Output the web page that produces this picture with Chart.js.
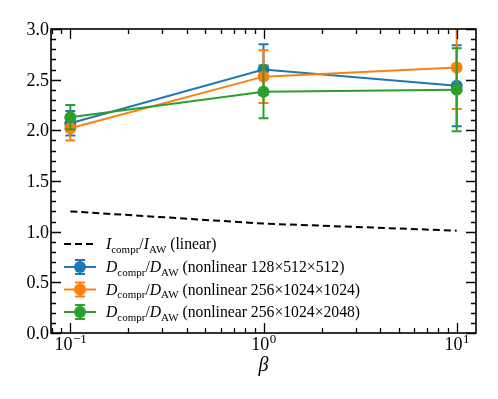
<!DOCTYPE html>
<html><head><meta charset="utf-8">
<script src="https://cdn.jsdelivr.net/npm/chart.js@4/dist/chart.umd.min.js"></script>
<style>html,body{margin:0;padding:0;background:#fff}</style>
</head><body>
<canvas id="c" width="498" height="399" style="display:block;width:498px;height:399px"></canvas>
<script>
// ---- data ----
const betaValues = [0.1, 1, 10];
const linearRatio = [1.20, 1.08, 1.01];
const nl128 = [2.07, 2.60, 2.44];
const nl128Err = [0.12, 0.25, 0.40];
const nl1024 = [2.02, 2.53, 2.62];
const nl1024Err = [0.12, 0.26, 0.41];
const nl2048 = [2.13, 2.38, 2.40];
const nl2048Err = [0.12, 0.26, 0.41];
const yTickValues = [0.0, 0.5, 1.0, 1.5, 2.0, 2.5, 3.0];
const xTickExponents = [-1, 0, 1];
const legendSymbols = ['I', 'D', 'D', 'D'];
const legendDescriptions = ['(linear)', '(nonlinear 128\u00d7512\u00d7512)', '(nonlinear 256\u00d71024\u00d71024)', '(nonlinear 256\u00d71024\u00d72048)'];
const xAxisTitle = '\u03b2';

const COLORS = ['#000000', '#1f77b4', '#ff7f0e', '#2ca02c'];
const SERIF = '"Liberation Serif", "Times New Roman", serif';

function pts(ys) { return betaValues.map((x, i) => ({x: x, y: ys[i]})); }

const datasets = [
  {data: pts(linearRatio), borderColor: COLORS[0], borderDash: [7, 4], borderWidth: 2, pointRadius: 0, order: 3},
  {data: pts(nl128), errors: nl128Err, borderColor: COLORS[1], backgroundColor: COLORS[1], borderWidth: 2, pointRadius: 6, pointBorderWidth: 0, order: 2},
  {data: pts(nl1024), errors: nl1024Err, borderColor: COLORS[2], backgroundColor: COLORS[2], borderWidth: 2, pointRadius: 6, pointBorderWidth: 0, order: 1},
  {data: pts(nl2048), errors: nl2048Err, borderColor: COLORS[3], backgroundColor: COLORS[3], borderWidth: 2, pointRadius: 6, pointBorderWidth: 0, order: 0}
];

function drawErrorBar(ctx, x, yTop, yBot, color) {
  ctx.save();
  ctx.strokeStyle = color;
  ctx.lineWidth = 2;
  ctx.beginPath();
  ctx.moveTo(x, yTop); ctx.lineTo(x, yBot);
  ctx.moveTo(x - 5, yTop); ctx.lineTo(x + 5, yTop);
  ctx.moveTo(x - 5, yBot); ctx.lineTo(x + 5, yBot);
  ctx.stroke();
  ctx.restore();
}

function drawRuns(ctx, x, y, runs) {
  runs.forEach(r => {
    ctx.font = r.f;
    ctx.fillText(r.t, x, y + (r.dy || 0));
    x += ctx.measureText(r.t).width;
  });
  return x;
}

const customPlugin = {
  id: 'custom',
  beforeDatasetDraw(chart, args) {
    const ds = chart.data.datasets[args.index];
    if (!ds.errors) return;
    const ctx = chart.ctx, a = chart.chartArea;
    const xs = chart.scales.x, ys = chart.scales.y;
    ctx.save();
    ctx.beginPath(); ctx.rect(a.left, a.top, a.right - a.left, a.bottom - a.top); ctx.clip();
    ds.data.forEach((p, i) => {
      const px = xs.getPixelForValue(p.x);
      drawErrorBar(ctx, px, ys.getPixelForValue(p.y + ds.errors[i]), ys.getPixelForValue(p.y - ds.errors[i]), ds.borderColor);
    });
    ctx.restore();
  },
  afterDraw(chart) {
    const ctx = chart.ctx, a = chart.chartArea;
    const xs = chart.scales.x, ys = chart.scales.y;
    ctx.save();
    ctx.strokeStyle = '#000';
    ctx.fillStyle = '#000';
    // frame
    ctx.lineWidth = 1.6;
    ctx.strokeRect(a.left, a.top, a.right - a.left, a.bottom - a.top);
    // y ticks (inside, both sides)
    ctx.lineWidth = 1.3;
    ctx.beginPath();
    for (let k = 0; k <= 30; k++) {
      const v = k / 10;
      const py = Math.round(ys.getPixelForValue(v)) + 0.5;
      const len = (k % 5 === 0) ? 10 : 5;
      ctx.moveTo(a.left, py); ctx.lineTo(a.left + len, py);
      ctx.moveTo(a.right, py); ctx.lineTo(a.right - len, py);
    }
    // x ticks (log, inside, both sides)
    for (let d = -2; d <= 1; d++) {
      for (let m = 1; m <= 9; m++) {
        const v = m * Math.pow(10, d);
        if (v < xs.min || v > xs.max) continue;
        const px = Math.round(xs.getPixelForValue(v)) + 0.5;
        const len = (m === 1) ? 10 : 5;
        ctx.moveTo(px, a.bottom); ctx.lineTo(px, a.bottom - len);
        ctx.moveTo(px, a.top); ctx.lineTo(px, a.top + len);
      }
    }
    ctx.stroke();
    // y tick labels
    ctx.font = '18px ' + SERIF;
    ctx.textAlign = 'right';
    ctx.textBaseline = 'alphabetic';
    yTickValues.forEach(v => {
      const py = ys.getPixelForValue(v);
      ctx.fillText(v.toFixed(1), a.left - 2, py + 6);
    });
    // x tick labels 10^n
    ctx.textAlign = 'left';
    xTickExponents.forEach(e => {
      const px = xs.getPixelForValue(Math.pow(10, e));
      const base = '10';
      const sup = (e < 0 ? '\u2212' : '') + Math.abs(e);
      ctx.font = '18px ' + SERIF;
      const wb = ctx.measureText(base).width;
      ctx.font = '13px ' + SERIF;
      const ws = ctx.measureText(sup).width;
      const x0 = px - (wb + ws) / 2;
      ctx.font = '18px ' + SERIF;
      ctx.fillText(base, x0, 350);
      ctx.font = '13px ' + SERIF;
      ctx.fillText(sup, x0 + wb + 0.5, 343);
    });
    // x axis title
    ctx.font = 'italic 20px ' + SERIF;
    ctx.textAlign = 'center';
    ctx.fillText(xAxisTitle, (a.left + a.right) / 2, 371);
    // legend
    ctx.textAlign = 'left';
    const rowYs = [244, 267, 289.5, 312];
    const hx0 = 64, hx1 = 96, tx = 106;
    datasets.forEach((ds, i) => {
      const ry = rowYs[i];
      ctx.save();
      ctx.strokeStyle = ds.borderColor;
      ctx.lineWidth = 2;
      if (ds.borderDash) ctx.setLineDash(ds.borderDash);
      ctx.beginPath(); ctx.moveTo(hx0, ry); ctx.lineTo(hx1, ry); ctx.stroke();
      ctx.restore();
      if (ds.errors) {
        const cx = (hx0 + hx1) / 2;
        drawErrorBar(ctx, cx, ry - 7, ry + 7, ds.borderColor);
        ctx.save();
        ctx.fillStyle = ds.borderColor;
        ctx.beginPath(); ctx.arc(cx, ry, 6, 0, Math.PI * 2); ctx.fill();
        ctx.restore();
      }
      const L = legendSymbols[i];
      const fm = '15.7px ' + SERIF, fi = 'italic 15.7px ' + SERIF, fs = '11px ' + SERIF;
      ctx.fillStyle = '#000';
      drawRuns(ctx, tx, ry + 5, [
        {t: L, f: fi}, {t: 'compr', f: fs, dy: 3.5}, {t: '/', f: fm},
        {t: L, f: fi}, {t: 'AW', f: fs, dy: 3.5}, {t: ' ' + legendDescriptions[i], f: fm}
      ]);
    });
    ctx.restore();
  }
};

new Chart(document.getElementById('c'), {
  type: 'line',
  data: {datasets: datasets},
  options: {
    responsive: false,
    devicePixelRatio: 1,
    animation: false,
    layout: {padding: {left: 0, top: 29, right: 22, bottom: 0}},
    plugins: {legend: {display: false}, tooltip: {enabled: false}},
    scales: {
      x: {type: 'logarithmic', min: Math.pow(10, -1.1), max: Math.pow(10, 1.1),
          ticks: {display: false}, grid: {display: false}, border: {display: false},
          afterFit: s => { s.height = 66; }},
      y: {type: 'linear', min: 0, max: 3,
          ticks: {display: false}, grid: {display: false}, border: {display: false},
          afterFit: s => { s.width = 51; }}
    }
  },
  plugins: [customPlugin]
});
</script>
</body></html>
